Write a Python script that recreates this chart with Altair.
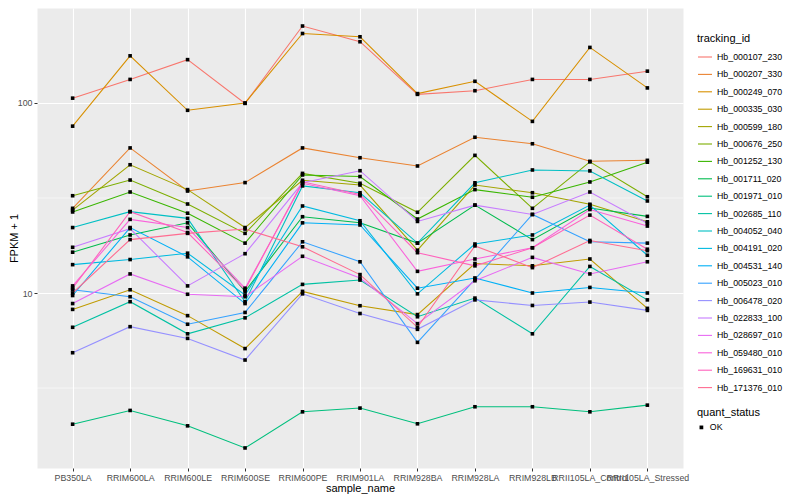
import altair as alt
import pandas as pd

samples = ["PB350LA", "RRIM600LA", "RRIM600LE", "RRIM600SE", "RRIM600PE", "RRIM901LA",
           "RRIM928BA", "RRIM928LA", "RRIM928LB", "RRII105LA_Control", "RRII105LA_Stressed"]

Hb_000107_230 = [106, 133, 169, 99.5, 254, 210, 111, 116, 133, 133, 147]
Hb_000207_330 = [27.9, 58, 34.4, 38.1, 58, 51.5, 46.6, 66, 61, 49.3, 49.9]
Hb_000249_070 = [75.5, 177, 91.5, 100, 232, 223, 112, 130, 80, 196, 120]
Hb_000335_030 = [8.2, 10.4, 7.6, 5.1, 10.2, 8.57, 7.7, 14.3, 13.9, 15.1, 8.3]
Hb_000599_180 = [27.3, 47.3, 35, 22.1, 39.2, 37, 16.8, 37, 33.7, 29.3, 23.7]
Hb_000676_250 = [32.5, 39.3, 29.4, 20.6, 42.6, 37.8, 26.6, 53, 27.9, 49, 32.1]
Hb_001252_130 = [26.7, 34, 26.3, 18.3, 41.8, 41, 24.5, 35, 31.9, 38.4, 48.8]
Hb_001711_020 = [16.4, 20.2, 23.4, 10.2, 25.2, 23.4, 18.3, 29, 19.1, 28, 25.3]
Hb_001971_010 = [2.04, 2.41, 2.0, 1.53, 2.37, 2.48, 2.05, 2.52, 2.52, 2.37, 2.57]
Hb_002685_110 = [6.6, 9.0, 6.1, 7.4, 11.1, 11.7, 7.5, 9.4, 6.1, 13.8, 9.2]
Hb_004052_040 = [22.1, 26.8, 24.7, 9.0, 36.6, 33.7, 18.3, 38, 44.4, 43.9, 30.5]
Hb_004191_020 = [14.1, 15.0, 16.2, 9.76, 28.7, 24, 9.9, 18.1, 20.2, 29, 15.8]
Hb_004531_140 = [9.7, 22.1, 15.5, 8.8, 23.4, 22.8, 10.6, 12.0, 10.0, 10.7, 10.0]
Hb_005023_010 = [10.4, 9.56, 6.85, 7.9, 18.6, 14.6, 5.5, 11.8, 25.9, 18.6, 18.3]
Hb_006478_020 = [4.85, 6.65, 5.77, 4.44, 9.9, 7.8, 6.44, 9.2, 8.6, 8.96, 8.1]
Hb_022833_100 = [17.4, 21.8, 10.9, 16.1, 38.0, 44, 23.8, 29, 25.9, 34, 23.3]
Hb_028697_010 = [8.8, 12.6, 9.85, 9.56, 15.6, 12.0, 6.9, 11.6, 15.4, 12.6, 14.6]
Hb_059480_010 = [10.9, 24.4, 22.1, 10.6, 37.8, 32.5, 13.0, 15.1, 17.3, 27.5, 22.5]
Hb_169631_010 = [10.6, 26.8, 20.8, 10.4, 38.5, 33.0, 16.3, 13.9, 17.3, 25.7, 17.0]
Hb_171376_010 = [10.0, 19.1, 20.6, 21.7, 17.5, 12.5, 6.6, 17.7, 13.6, 18.9, 16.7]

series = {
    "Hb_000107_230": Hb_000107_230, "Hb_000207_330": Hb_000207_330,
    "Hb_000249_070": Hb_000249_070, "Hb_000335_030": Hb_000335_030,
    "Hb_000599_180": Hb_000599_180, "Hb_000676_250": Hb_000676_250,
    "Hb_001252_130": Hb_001252_130, "Hb_001711_020": Hb_001711_020,
    "Hb_001971_010": Hb_001971_010, "Hb_002685_110": Hb_002685_110,
    "Hb_004052_040": Hb_004052_040, "Hb_004191_020": Hb_004191_020,
    "Hb_004531_140": Hb_004531_140, "Hb_005023_010": Hb_005023_010,
    "Hb_006478_020": Hb_006478_020, "Hb_022833_100": Hb_022833_100,
    "Hb_028697_010": Hb_028697_010, "Hb_059480_010": Hb_059480_010,
    "Hb_169631_010": Hb_169631_010, "Hb_171376_010": Hb_171376_010,
}

colors = ["#F8766D", "#EA8331", "#D89000", "#C09B00", "#A3A500", "#7CAE00", "#39B600",
          "#00BB4E", "#00BF7D", "#00C1A3", "#00BFC4", "#00BAE0", "#00B0F6", "#35A2FF",
          "#9590FF", "#C77CFF", "#E76BF3", "#FA62DB", "#FF62BC", "#FF6C91"]

quant_status = ["OK"]
major_breaks = [10, 100]
minor_breaks = [3.162, 31.62]
y_domain = [1.2, 316]

rows = []
for tid, vals in series.items():
    for s, v in zip(samples, vals):
        rows.append({"tracking_id": tid, "sample_name": s, "fpkm1": v,
                     "quant_status": quant_status[0]})
df = pd.DataFrame(rows)
minor_df = pd.DataFrame({"v": minor_breaks})

FONT = "Liberation Sans"
yscale = alt.Scale(type="log", domain=y_domain, nice=False, zero=False)
xscale = alt.Scale(type="point", domain=samples, padding=0.62)

x_enc = alt.X("sample_name:N", scale=xscale, sort=samples,
              axis=alt.Axis(title="sample_name", grid=True, gridColor="white", gridWidth=1.1,
                            domain=False, tickColor="#333333", tickSize=3, labelAngle=0,
                            labelFontSize=8.8, labelColor="#4D4D4D", labelOverlap=False,
                            labelFlush=False, labelBound=False, labelPadding=2,
                            titleFontSize=11, titleFontWeight="normal", titlePadding=1,
                            labelFont=FONT, titleFont=FONT))
y_enc = alt.Y("fpkm1:Q", scale=yscale,
              axis=alt.Axis(title="FPKM + 1", values=major_breaks, format="d", grid=True,
                            gridColor="white", gridWidth=1.1, domain=False,
                            tickColor="#333333", tickSize=3, labelFontSize=8.8,
                            labelColor="#4D4D4D", labelPadding=2, titleFontSize=11,
                            titleFontWeight="normal", titleX=-23, titleY=230,
                            titleAngle=270, titleAlign="center", titleBaseline="middle",
                            labelFont=FONT, titleFont=FONT))

minor = alt.Chart(minor_df).mark_rule(color="white", strokeWidth=0.55).encode(
    y=alt.Y("v:Q", scale=yscale)
)

lines = alt.Chart(df).mark_line(strokeWidth=1.07).encode(
    x=x_enc, y=y_enc,
    color=alt.Color("tracking_id:N", scale=alt.Scale(domain=list(series.keys()), range=colors),
                    legend=alt.Legend(title="tracking_id", symbolType="stroke",
                                      symbolStrokeWidth=1.1, symbolSize=196,
                                      labelFontSize=8.8, titleFontSize=11,
                                      titleFontWeight="normal", labelFont=FONT,
                                      titleFont=FONT, rowPadding=4.4, orient="none",
                                      legendX=660, legendY=25, labelColor="black")),
)

points = alt.Chart(df).mark_point(filled=True, color="black", opacity=1, size=13).encode(
    x=alt.X("sample_name:N", scale=xscale, sort=samples),
    y=alt.Y("fpkm1:Q", scale=yscale),
    shape=alt.Shape("quant_status:N", scale=alt.Scale(domain=quant_status, range=["square"]),
                    legend=alt.Legend(title="quant_status", symbolFillColor="black",
                                      symbolStrokeColor="black", symbolSize=14,
                                      labelFontSize=8.8, titleFontSize=11,
                                      titleFontWeight="normal", labelFont=FONT,
                                      titleFont=FONT, orient="none", legendX=660,
                                      legendY=399, labelColor="black")),
)

chart = alt.layer(minor, lines, points).properties(
    width=646, height=460,
    autosize=alt.AutoSizeParams(type="none"),
    padding={"left": 29, "top": 0, "right": 105, "bottom": 28},
).configure_view(fill="#EBEBEB", stroke="transparent").resolve_legend(
    color="independent", shape="independent"
)

chart.save("out.html", embed_options={"renderer": "svg", "actions": False})
